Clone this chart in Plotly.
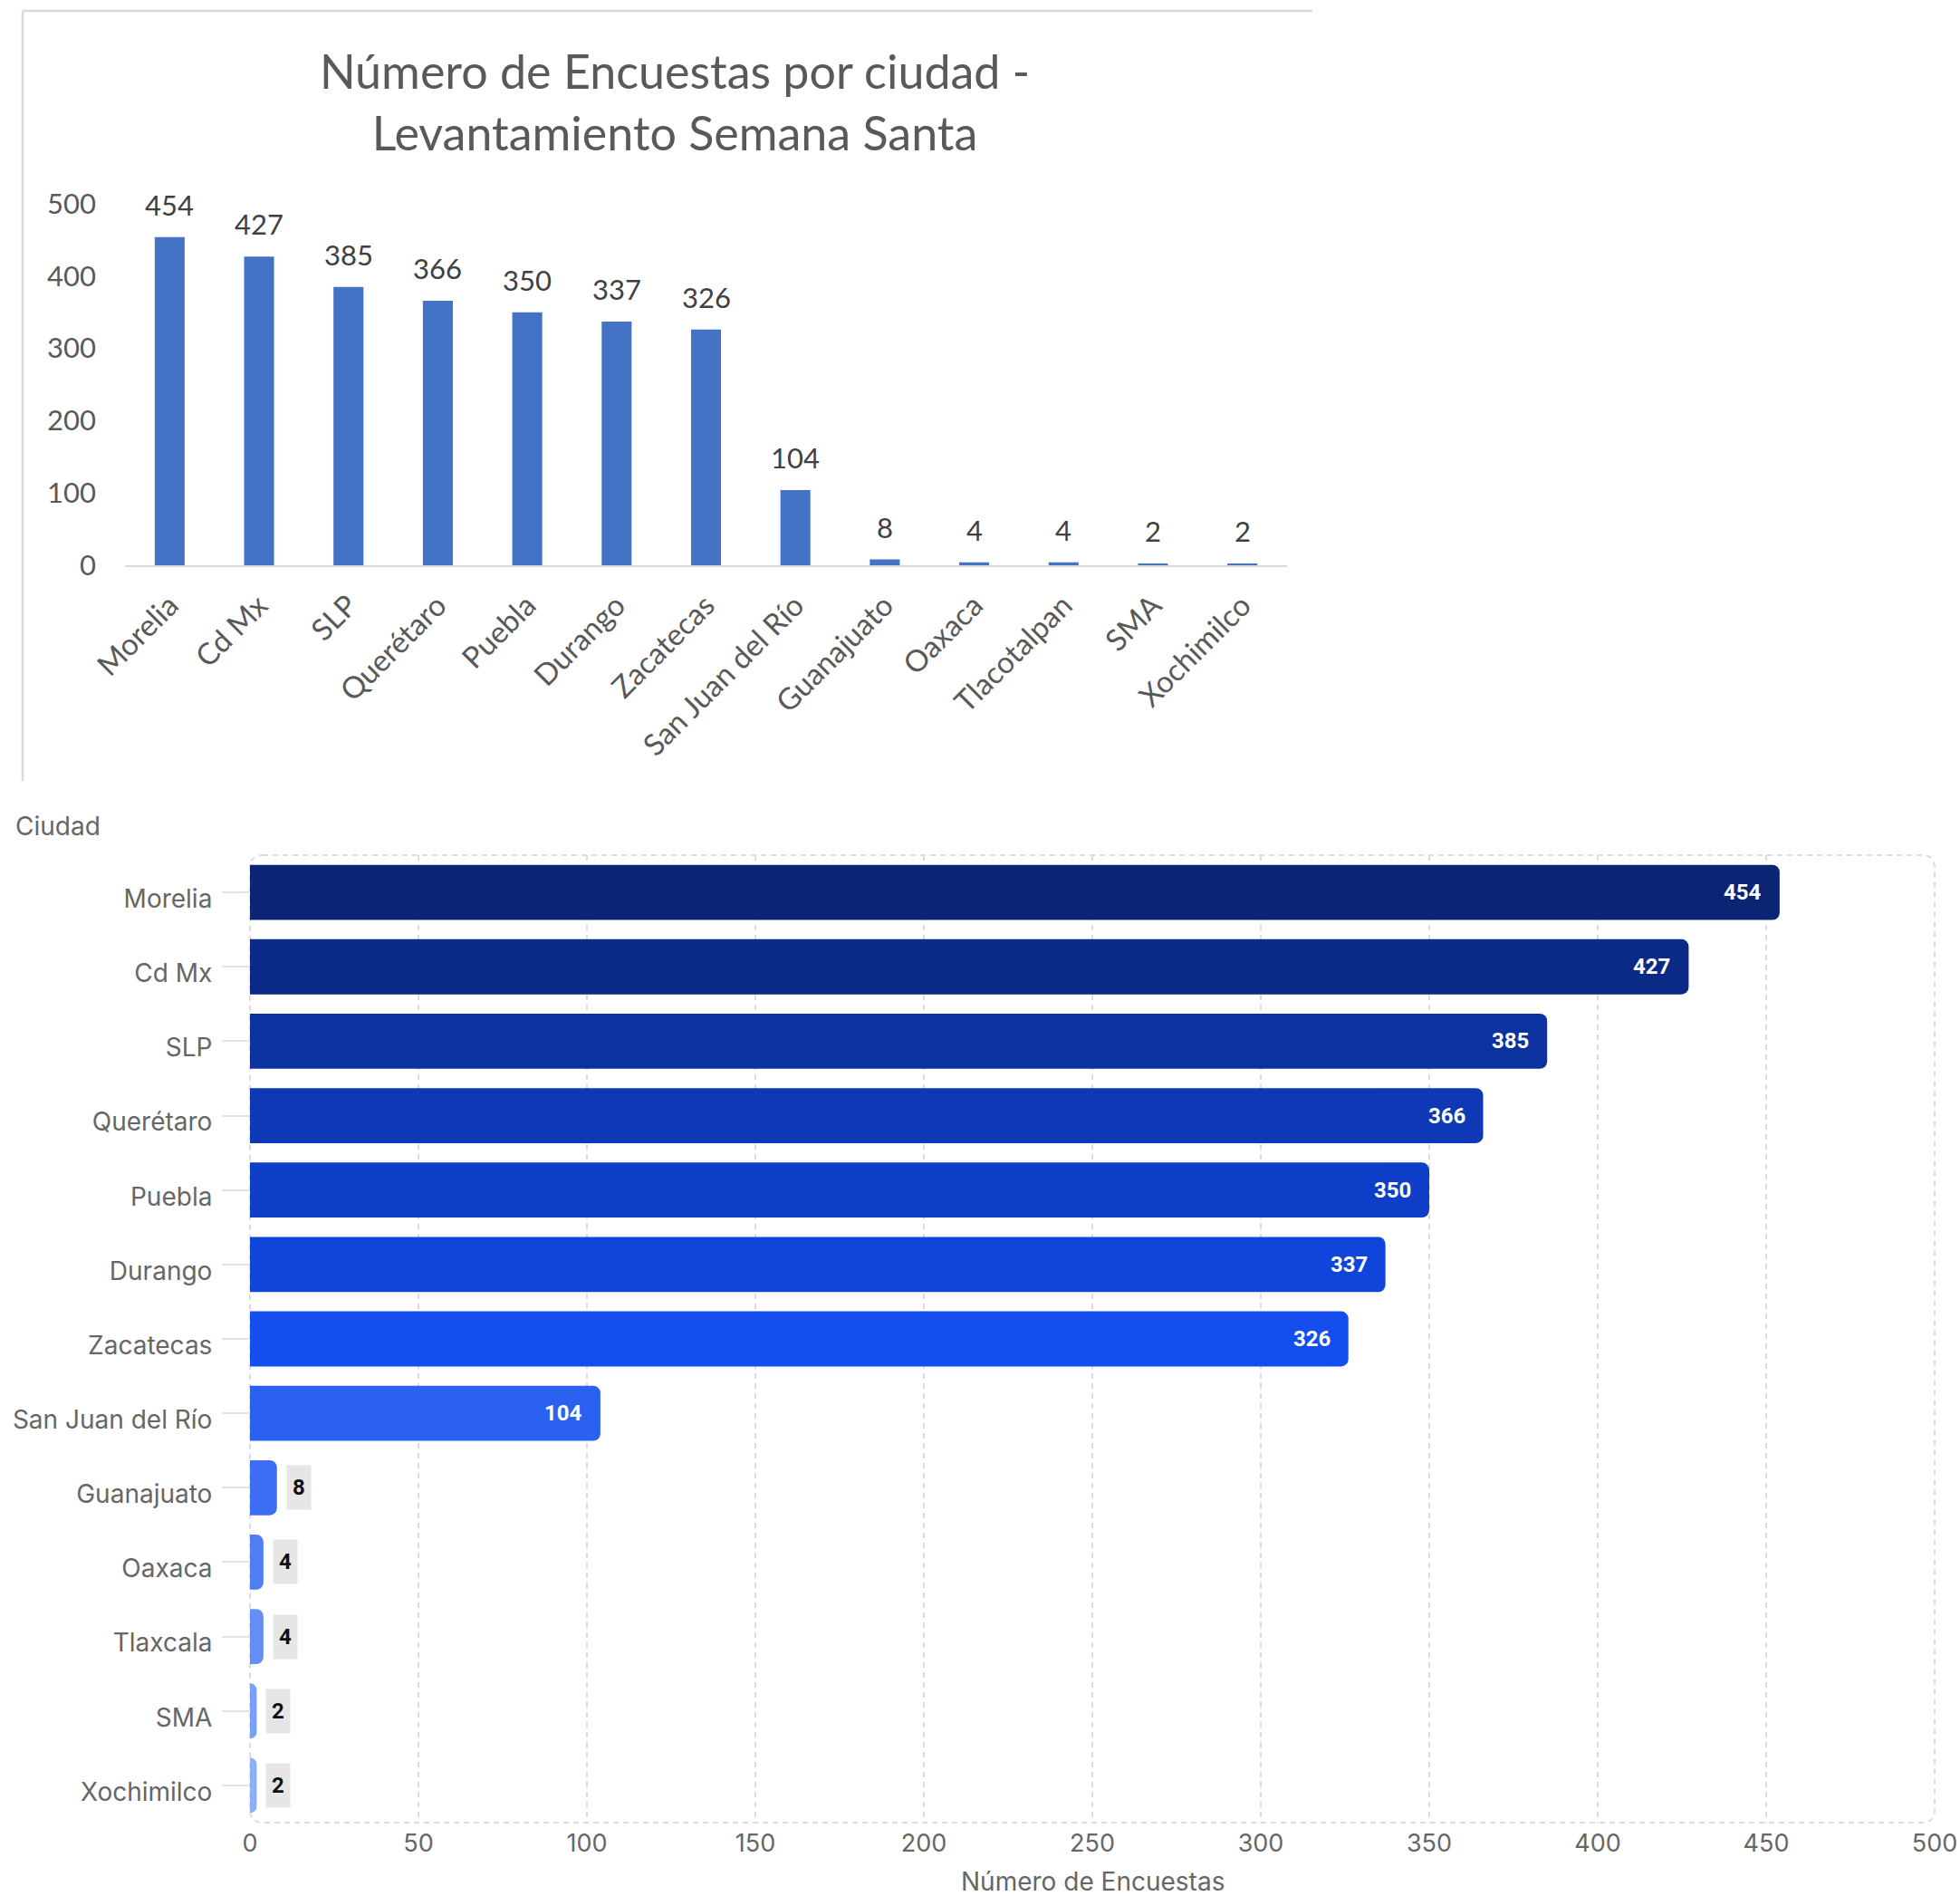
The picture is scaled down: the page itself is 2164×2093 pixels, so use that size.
import plotly.graph_objects as go

# Encuestas levantadas por ciudad (Semana Santa)
ciudades_excel = ["Morelia", "Cd Mx", "SLP", "Querétaro", "Puebla", "Durango", "Zacatecas",
                  "San Juan del Río", "Guanajuato", "Oaxaca", "Tlacotalpan", "SMA", "Xochimilco"]
ciudades = ["Morelia", "Cd Mx", "SLP", "Querétaro", "Puebla", "Durango", "Zacatecas",
            "San Juan del Río", "Guanajuato", "Oaxaca", "Tlaxcala", "SMA", "Xochimilco"]
encuestas = [454, 427, 385, 366, 350, 337, 326, 104, 8, 4, 4, 2, 2]
escala_ticks = [0, 100, 200, 300, 400, 500]
escala_ticks_h = [0, 50, 100, 150, 200, 250, 300, 350, 400, 450, 500]

# Degradado de azules (de mayor a menor número de encuestas)
colores = ["#0B2574", "#0B2A88", "#0C32A0", "#0E38B6", "#0F3FC9", "#1045DB", "#154EEF",
           "#2B61F0", "#3D6DF2", "#4F7EF4", "#658EF5", "#7A9FF7", "#8DAEF8"]

W, H = 2164, 2093


def fx(p):
    return p / W


def fy(p):
    return 1 - p / H


EXCEL_FONT = "Lato, Carlito, Calibri, sans-serif"
UI_FONT = "Inter, Roboto, sans-serif"
LABEL_FONT = "Roboto, Inter, sans-serif"

fig = go.Figure()

# --- Gráfica de columnas estilo Excel ---
fig.add_trace(go.Bar(
    x=ciudades_excel, y=encuestas, xaxis="x", yaxis="y",
    marker=dict(color="#4472C4", line=dict(width=0)),
    width=0.335, hoverinfo="x+y", showlegend=False,
))

# --- Barras horizontales ---
fig.add_trace(go.Bar(
    x=encuestas, y=ciudades, orientation="h", xaxis="x2", yaxis="y2",
    marker=dict(color=colores, line=dict(width=0), cornerradius=8),
    width=0.74, hoverinfo="x+y", showlegend=False,
))

annotations = []

# Etiquetas de valor sobre las columnas
for c, v in zip(ciudades_excel, encuestas):
    annotations.append(dict(
        x=c, y=v, xref="x", yref="y", text=str(v), showarrow=False,
        xanchor="center", yanchor="bottom", yshift=15,
        font=dict(family=EXCEL_FONT, size=31, color="#404040"),
    ))

# Etiquetas de valor en las barras horizontales
UMBRAL_DENTRO = 50
for c, v in zip(ciudades, encuestas):
    if v >= UMBRAL_DENTRO:
        annotations.append(dict(
            x=v, y=c, xref="x2", yref="y2", text=f"<b>{v}</b>", showarrow=False,
            xanchor="right", yanchor="middle", xshift=-18,
            font=dict(family=LABEL_FONT, size=24, color="#FFFFFF"),
        ))
    else:
        annotations.append(dict(
            x=v, y=c, xref="x2", yref="y2", text=f"<b>{v}</b>", showarrow=False,
            xanchor="left", yanchor="middle", xshift=10,
            width=16, height=38, align="center", valign="middle",
            bgcolor="#E6E6E6", borderpad=5,
            font=dict(family=LABEL_FONT, size=24, color="#111111"),
        ))

# Títulos de ejes del gráfico horizontal
annotations.append(dict(
    x=fx(15), y=fy(912), xref="paper", yref="paper", text="Ciudad", showarrow=False,
    xanchor="left", yanchor="middle",
    font=dict(family=UI_FONT, size=28, color="#666666"),
))
annotations.append(dict(
    x=fx(1206), y=fy(2077), xref="paper", yref="paper", text="Número de Encuestas",
    showarrow=False, xanchor="center", yanchor="middle",
    font=dict(family=UI_FONT, size=28, color="#666666"),
))

# Marco redondeado punteado del área de trazado
pw, ph = 2136 - 276, 2012 - 944
r = 14
rx, ry = r / pw, r / ph
marco = (f"M {rx},1 L {1-rx},1 Q 1,1 1,{1-ry} L 1,{ry} Q 1,0 {1-rx},0 "
         f"L {rx},0 Q 0,0 0,{ry} L 0,{1-ry} Q 0,1 {rx},1 Z")

shapes = [
    dict(type="path", path=marco, xref="x2 domain", yref="y2 domain",
         line=dict(color="#DCDCDC", width=2, dash="6px,5px"), layer="below"),
    # Borde de la imagen de Excel
    dict(type="line", xref="paper", yref="paper", x0=fx(25), x1=fx(1449), y0=fy(12), y1=fy(12),
         line=dict(color="#D9D9D9", width=2.5)),
    dict(type="line", xref="paper", yref="paper", x0=fx(25), x1=fx(25), y0=fy(12), y1=fy(862),
         line=dict(color="#D9D9D9", width=2.5)),
]

fig.update_layout(
    width=W, height=H, autosize=False,
    margin=dict(l=0, r=0, t=0, b=0),
    paper_bgcolor="#FFFFFF", plot_bgcolor="rgba(0,0,0,0)",
    title=dict(
        text="Número de Encuestas por ciudad -<br>Levantamiento Semana Santa",
        x=fx(745), xanchor="center", y=fy(98), yanchor="middle",
        font=dict(family=EXCEL_FONT, size=52, color="#595959"),
    ),
    xaxis=dict(
        domain=[fx(138), fx(1421)], anchor="y", type="category",
        categoryorder="array", categoryarray=ciudades_excel,
        showgrid=False, zeroline=False, showline=True, linecolor="#D9D9D9", linewidth=2,
        ticks="", tickangle=-45, ticklabelstandoff=10, automargin=False,
        tickfont=dict(family=EXCEL_FONT, size=33, color="#595959"),
    ),
    yaxis=dict(
        domain=[fy(624), fy(225)], anchor="x", range=[0, 500],
        tickvals=escala_ticks, showgrid=False, zeroline=False, showline=False,
        ticks="", ticklabelstandoff=31, automargin=False,
        tickfont=dict(family=EXCEL_FONT, size=31, color="#595959"),
    ),
    xaxis2=dict(
        domain=[fx(276), fx(2136)], anchor="y2", range=[0, 500],
        tickvals=escala_ticks_h, showgrid=True, gridcolor="#DCDCDC", gridwidth=2,
        griddash="6px,5px", zeroline=False, showline=False, ticks="",
        ticklabelstandoff=4, automargin=False,
        tickfont=dict(family=UI_FONT, size=27, color="#666666"),
    ),
    yaxis2=dict(
        domain=[fy(2012), fy(944)], anchor="x2", type="category",
        categoryorder="array", categoryarray=ciudades, range=[12.5, -0.5],
        showgrid=False, zeroline=False, showline=False,
        ticks="outside", ticklen=30, tickwidth=2, tickcolor="#E3E3E3",
        ticklabelstandoff=5, ticklabelshift=-7, automargin=False,
        tickfont=dict(family=UI_FONT, size=28, color="#666666"),
    ),
    annotations=annotations,
    shapes=shapes,
)

fig.write_html("out.html")
